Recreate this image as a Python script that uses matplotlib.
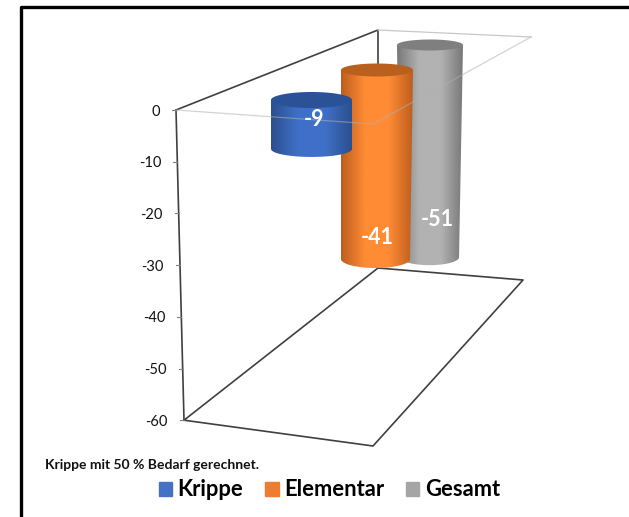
import numpy as np
import matplotlib
matplotlib.use("Agg")
import matplotlib.pyplot as plt
from matplotlib.colors import LinearSegmentedColormap
from matplotlib.patches import Patch, PathPatch
from matplotlib.path import Path

plt.rcParams['font.family'] = ['Lato', 'DejaVu Sans']

# Data
categories = ["Krippe", "Elementar", "Gesamt"]
values = [-9, -41, -51]
ticks = [0, -10, -20, -30, -40, -50, -60]
note = "Krippe mit 50 % Bedarf gerechnet."
colors = ["#4472C4", "#ED7D31", "#A5A5A5"]

# Fake 3D look: cylinder shape per bar, in pixels
shade_dark = ["#2C4F8E", "#BD5E1E", "#787878"]
shade_light = ["#3F70C8", "#FF8B35", "#B2B2B2"]
top_color = ["#2B5196", "#B9601F", "#7F7F7F"]
x_left = [271, 341, 397]
x_right = [352, 413, 463]
x_left_bot = [271, 341, 400]
x_right_bot = [352, 410, 459]
zero_y = [100, 70, 45]
unit_px = [5.44, 4.61, 4.16]
ry_top = [8, 6.5, 5.5]
ry_bot = [8, 9, 8]
label_y = [120, 238, 220]
label_x = [314, 377, 437]


def axis_y(v):
    return 110 - v * 5.17


def axis_x(v):
    return 176 - v * 8 / 60


def cylinder(ax, i, value):
    y0 = zero_y[i]
    y1 = y0 - value * unit_px[i]
    xc0 = (x_left[i] + x_right[i]) / 2
    rx0 = (x_right[i] - x_left[i]) / 2
    xc1 = (x_left_bot[i] + x_right_bot[i]) / 2
    rx1 = (x_right_bot[i] - x_left_bot[i]) / 2

    # outline of the body, lower edge is half an ellipse
    t = np.linspace(np.pi, 0, 40)
    low_x = xc1 + rx1 * np.cos(t)
    low_y = y1 + ry_bot[i] * np.sin(t)
    verts = [(x_left[i], y0)] + list(zip(low_x, low_y)) + [(x_right[i], y0), (x_left[i], y0)]
    clip = PathPatch(Path(verts), transform=ax.transData, fc="none", ec="none")
    ax.add_patch(clip)

    cmap = LinearSegmentedColormap.from_list(
        "c", [shade_dark[i], shade_light[i], shade_light[i], shade_dark[i]])
    grad = np.linspace(0, 1, 256).reshape(1, -1)
    im = ax.imshow(grad, cmap=cmap, aspect="auto", zorder=3 - i * 0.1,
                   extent=[x_left[i], x_right[i], y1 + ry_bot[i] + 1, y0], interpolation="bilinear")
    im.set_clip_path(clip)

    # top cap
    t = np.linspace(0, 2 * np.pi, 80)
    ax.fill(xc0 + rx0 * np.cos(t), y0 + ry_top[i] * np.sin(t), color=top_color[i],
            zorder=3.01 - i * 0.1, lw=0)


fig = plt.figure(figsize=(6.29, 5.17), dpi=100)
ax = fig.add_axes([0, 0, 1, 1])

# outer black frame, only left and top are in the picture
ax.plot([20.5, 20.5, 629], [517, 6.5, 6.5], color="black", lw=2.4, zorder=1)

# dark walls and floor
dark = "#404040"
ax.plot([axis_x(0), 378, 378], [axis_y(0), 30, 268], color=dark, lw=1.2, zorder=1)
ax.plot([axis_x(0), axis_x(-60)], [axis_y(0), axis_y(-60)], color=dark, lw=1.2, zorder=1)
ax.plot([axis_x(-60), 373, 523, 378, axis_x(-60)],
        [axis_y(-60), 446, 280, 268, axis_y(-60)], color=dark, lw=1.2, zorder=1)

# light plane at zero
ax.plot([378, 531], [30, 37], color="#C8C8C8", lw=0.9, zorder=1)
ax.plot([531, 373, axis_x(0)], [37, 124, axis_y(0)], color="#B0B0B0", lw=0.9, alpha=0.55, zorder=5)

for i, v in enumerate(values):
    cylinder(ax, i, v)
    ax.text(label_x[i], label_y[i], str(v), color="white", fontsize=15.5, fontweight="bold",
            ha="center", va="center", zorder=6)

# value axis
for t in ticks:
    ax.plot([axis_x(t) - 4, axis_x(t)], [axis_y(t), axis_y(t)], color="#808080", lw=0.8)
    ax.text(axis_x(t) - 16, axis_y(t) + 1.5, str(t), ha="right", va="center", fontsize=10.5, color="#111111")

ax.text(45, 465, note, fontsize=10, fontweight="bold", color="#111111", va="center")

handles = [Patch(color=c, label=n) for c, n in zip(colors, categories)]
ax.legend(handles=handles, ncol=3, loc="center", bbox_to_anchor=(329.5 / 629, 1 - 490 / 517),
          frameon=False, prop={"weight": "bold", "size": 15.8}, handlelength=0.6,
          handleheight=0.6, handletextpad=0.25, columnspacing=1.0, borderpad=0)

ax.set_xlim(0, 629)
ax.set_ylim(517, 0)
ax.axis("off")
fig.savefig("out.png", dpi=100)
